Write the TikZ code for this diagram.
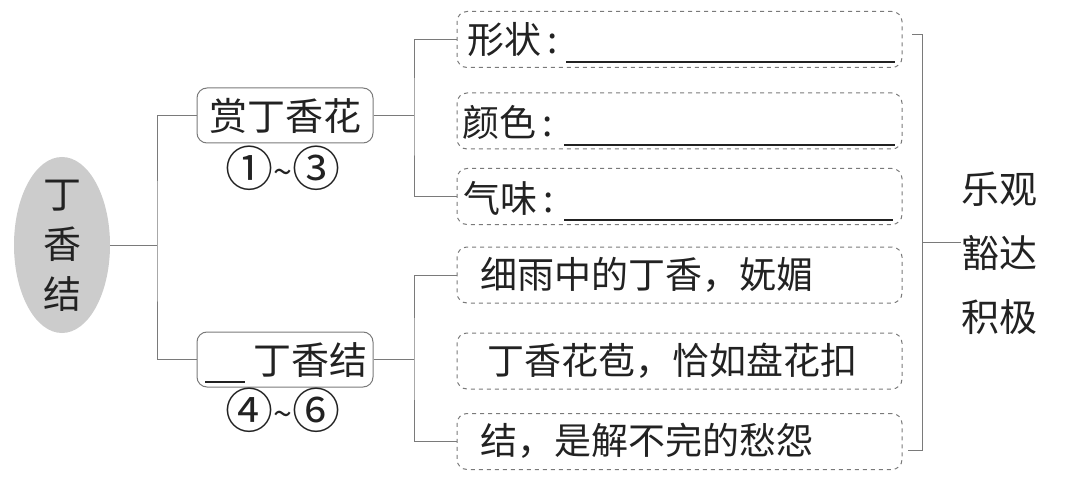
\documentclass[tikz,border=0pt]{standalone}
\usepackage{fontspec}
\setmainfont{Noto Sans CJK SC}
\usetikzlibrary{shapes.geometric}
\definecolor{ink}{HTML}{222222}
\definecolor{linec}{HTML}{7A7A7A}
\tikzset{
  conn/.style={draw=linec, line width=0.5pt},
  solidbox/.style={draw=linec, line width=0.5pt, rounded corners=5pt, minimum width=88pt, minimum height=27.5pt, inner sep=0pt},
  dashbox/.style={draw=linec, line width=0.5pt, dash pattern=on 2pt off 2pt, rounded corners=5pt, minimum width=222.5pt, minimum height=28pt, inner sep=0pt},
  txt/.style={text=ink, inner sep=0pt, font=\fontsize{18.5pt}{22pt}\selectfont},
  circ/.style={text=ink, inner sep=0pt, font=\fontsize{24pt}{26pt}\selectfont},
  uline/.style={draw=ink, line width=0.9pt},
}
\newcommand{\tld}{{\fontsize{17pt}{20pt}\selectfont\raisebox{1pt}{\char`~}}}
\begin{document}
\begin{tikzpicture}[x=0.5pt,y=-0.5pt]
\useasboundingbox (0,0) rectangle (1071,481);
% root
\node[ellipse, fill=black!20, minimum width=48pt, minimum height=88pt, inner sep=0pt] (root) at (62,245) {};
\node[txt, align=center, font=\fontsize{19pt}{25pt}\selectfont] (roottxt) at (62,246) {丁\\香\\结};
% second level
\node[solidbox] (b1) at (285,115.5) {};
\node[txt, font=\fontsize{19pt}{22pt}\selectfont] (b1t) at (285,116) {赏丁香花};
\node[circ] (b1n) at (283,168) {①\tld③};
\node[solidbox] (b2) at (285,359.5) {};
\node[txt, font=\fontsize{19pt}{22pt}\selectfont, anchor=west] (b2t) at (253,360) {丁香结};
\draw[uline, line width=0.7pt] (205,382) -- (245,382);
\node[circ] (b2n) at (283,410) {④\tld⑥};
% third level boxes
\node[dashbox] (rA) at (679.5,39.5) {};
\node[dashbox] (rB) at (679.5,121) {};
\node[dashbox] (rC) at (679.5,196.5) {};
\node[dashbox] (rD) at (679.5,275) {};
\node[dashbox] (rE) at (679.5,361) {};
\node[dashbox] (rF) at (679.5,441.5) {};
\node[txt, anchor=west] (tA) at (467,40) {形状\,:};
\node[txt, anchor=west] (tB) at (462,122) {颜色\,:};
\node[txt, anchor=west] (tC) at (463,198) {气味\,:};
\draw[uline] (566,62) -- (895,62);
\draw[uline] (564,145) -- (895,145);
\draw[uline] (564,220) -- (893,220);
\node[txt, anchor=west] (tD) at (480,275) {细雨中的丁香，妩媚};
\node[txt, anchor=west] (tE) at (487,361) {丁香花苞，恰如盘花扣};
\node[txt, anchor=west] (tF) at (480,441) {结，是解不完的愁怨};
% result
\node[txt, align=center, anchor=west, font=\fontsize{19pt}{32pt}\selectfont] (res) at (961,253) {乐观\\豁达\\积极};
% connectors
\coordinate (j0) at (157,245);
\draw[conn] (root.east) -- (j0);
\draw[conn] (b1.west) -| (j0) |- (b2.west);
\coordinate (j1) at (414,115.5);
\draw[conn] (b1.east) -- (j1);
\draw[conn] (rA.west) -| (j1) |- (rC.west);
\coordinate (j2) at (414,359.5);
\draw[conn] (b2.east) -- (j2);
\draw[conn] (rD.west) -| (j2) |- (rF.west);
\coordinate (k1) at (912,35);
\coordinate (k2) at (908,450);
\coordinate (km) at (922,242);
\draw[conn] (k1) -- (922,35) -- (922,450) -- (k2);
\draw[conn] (km) -- (res.west |- km);
\end{tikzpicture}
\end{document}
